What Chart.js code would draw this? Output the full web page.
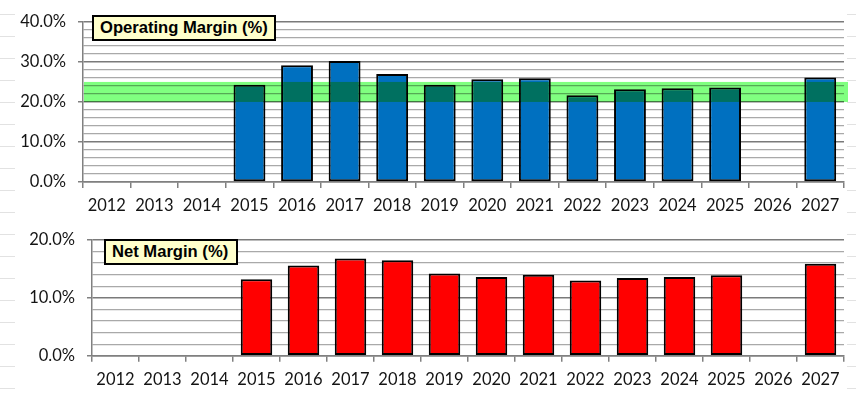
<!DOCTYPE html>
<html>
<head>
<meta charset="utf-8">
<script src="https://cdn.jsdelivr.net/npm/chart.js@4.4.1/dist/chart.umd.min.js"></script>
<style>
  html, body { margin: 0; padding: 0; background: #fff; }
  #wrap { position: relative; width: 856px; height: 396px; overflow: hidden; }
  .strip { position: absolute; top: 0; height: 396px;
    background: repeating-linear-gradient(to bottom, transparent 0px, transparent 14px, #e2e2e2 14px, #e2e2e2 15px, transparent 15px, transparent 22px); }
  .box { position: absolute; background: #ffffcc; border: 2px solid #000; box-sizing: border-box;
    font: bold 16.6px "Liberation Sans", Arial, sans-serif; color: #000; line-height: 21px; padding-left: 6px; white-space: nowrap; }
  canvas { position: absolute; left: 0; }
</style>
</head>
<body>
<div id="wrap">
  <div class="strip" style="left:0;width:15px"></div>
  <div class="strip" style="left:847px;width:9px"></div>
  <canvas id="top" width="856" height="218" style="top:0"></canvas>
  <canvas id="bottom" width="856" height="178" style="top:218px"></canvas>
  <div class="box" style="left:92px;top:15px;width:184px;height:26px">Operating Margin (%)</div>
  <div class="box" style="left:104px;top:239px;width:134px;height:26px">Net Margin (%)</div>
</div>
<script>
const years = ['2012','2013','2014','2015','2016','2017','2018','2019','2020','2021','2022','2023','2024','2025','2026','2027'];
const operatingMargin = [null, null, null, 24.3, 29.2, 30.2, 27.0, 24.3, 25.7, 25.9, 21.7, 23.2, 23.4, 23.6, null, 26.1];
const netMargin = [null, null, null, 13.2, 15.6, 16.8, 16.5, 14.2, 13.6, 14.0, 13.0, 13.4, 13.6, 13.9, null, 15.9];
const opTicks = [0, 10, 20, 30, 40];
const netTicks = [0, 10, 20];
const targetBand = [20, 25];

const tickFont = { family: 'Lato', size: 16.5 };

// green target range, multiplied over bars like the spreadsheet does
const bandPlugin = {
    id: 'band',
    afterDatasetsDraw(chart) {
        const { ctx, chartArea: a, scales: { y } } = chart;
        const top = y.getPixelForValue(targetBand[1]);
        const bot = y.getPixelForValue(targetBand[0]);
        ctx.save();
        ctx.globalCompositeOperation = 'multiply';
        ctx.fillStyle = '#80ff80';
        ctx.fillRect(a.left + 1, top, a.right - a.left + 3, bot - top);
        ctx.restore();
    }
};

function makeChart(id, data, color, max, labels, axisWidth, xHeight, padTop, plugins) {
    const major = v => labels.includes(v);
    return new Chart(document.getElementById(id).getContext('2d'), {
        type: 'bar',
        data: {
            labels: years,
            datasets: [{
                data: data,
                backgroundColor: color,
                borderColor: '#000',
                borderWidth: 2,
                borderSkipped: false,
                barPercentage: 0.67,
                categoryPercentage: 1
            }]
        },
        options: {
            responsive: false,
            animation: false,
            devicePixelRatio: 1,
            layout: { padding: { top: padTop, right: 12, left: 0, bottom: 0 } },
            plugins: { legend: { display: false }, tooltip: { enabled: false } },
            scales: {
                x: {
                    grid: { offset: true, drawOnChartArea: false, tickLength: 6, color: '#808080', lineWidth: 1.5 },
                    border: { color: '#808080', width: 1.5 },
                    ticks: { color: '#141414', font: tickFont, padding: 8, maxRotation: 0, autoSkip: false },
                    afterFit: s => { s.height = xHeight; }
                },
                y: {
                    min: 0,
                    max: max,
                    ticks: {
                        stepSize: 2,
                        maxTicksLimit: 50,
                        autoSkip: false,
                        color: '#141414',
                        font: tickFont,
                        padding: 12,
                        callback: v => major(v) ? v.toFixed(1) + '%' : ''
                    },
                    grid: {
                        color: c => major(c.tick.value) ? '#7a7a7a' : '#a9a9a9',
                        lineWidth: c => major(c.tick.value) ? 1.5 : 1.2,
                        tickColor: c => major(c.tick.value) ? '#808080' : 'rgba(0,0,0,0)',
                        tickLength: 5
                    },
                    border: { color: '#808080', width: 1.5 },
                    afterFit: s => { s.width = axisWidth; }
                }
            }
        },
        plugins: plugins
    });
}

makeChart('top', operatingMargin, '#0070c0', 40, opTicks, 83, 36, 14.5, [bandPlugin]);
makeChart('bottom', netMargin, '#ff0000', 20, netTicks, 92, 40.3, 15.3, []);
</script>
</body>
</html>
